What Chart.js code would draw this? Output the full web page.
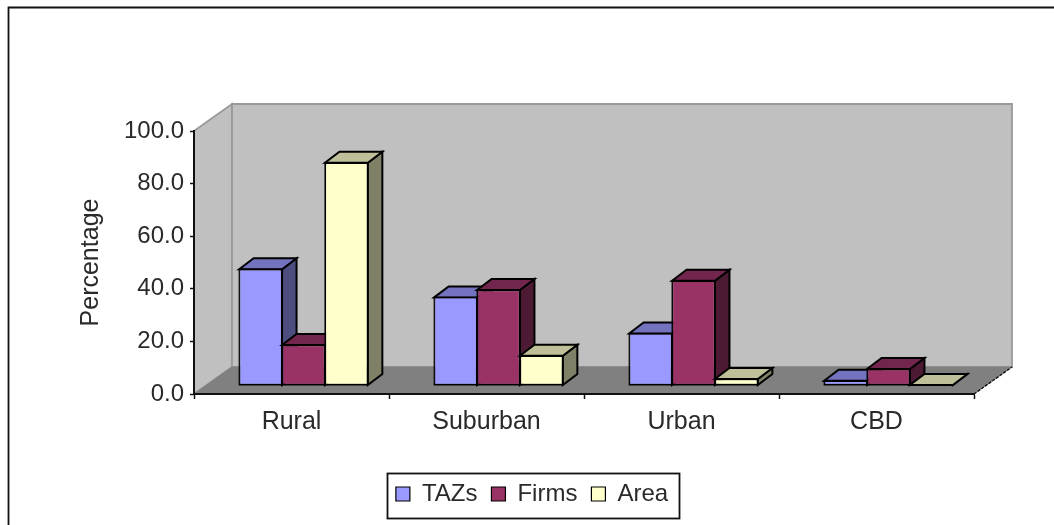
<!DOCTYPE html>
<html>
<head>
<meta charset="utf-8">
<style>html,body{margin:0;padding:0;background:#fff}canvas{display:block;filter:blur(0.45px)}</style>
<script src="https://cdn.jsdelivr.net/npm/chart.js@4"></script>
</head>
<body>
<canvas id="c" width="1054" height="525"></canvas>
<script>
const categories = ["Rural", "Suburban", "Urban", "CBD"];
const tazs  = [44.2, 33.5, 19.8, 1.8];
const firms = [15.4, 36.3, 39.8, 6.3];
const area  = [84.7, 11.3, 2.5, 0.2];
const axisTitle = "Percentage";
const FONT = "'Liberation Sans', Arial, sans-serif";
const TEXT = "#2a2a2a";

const wall = {dx: 38, dy: 27};   // depth of the box
const bar  = {dx: 14.5, dy: 11, ox: 12, oy: 8.5}; // depth of bars and their offset into the box

function shade(rgb, f){ return `rgb(${rgb.map(v => Math.round(v*f)).join(",")})`; }
function poly(ctx, pts, fill, stroke, lw){
  ctx.beginPath();
  pts.forEach((p,i) => i ? ctx.lineTo(p[0],p[1]) : ctx.moveTo(p[0],p[1]));
  ctx.closePath();
  if (fill){ ctx.fillStyle = fill; ctx.fill(); }
  if (stroke){ ctx.strokeStyle = stroke; ctx.lineWidth = lw; ctx.lineJoin = "miter"; ctx.stroke(); }
}

const rgbs = [[153,153,255],[153,51,102],[255,255,204]];

const box3d = {
  id: "box3d",
  afterLayout(chart){
    const l = chart.legend;
    l.left += 7; l.right += 7; l.top -= 9; l.bottom -= 9;
  },
  beforeDraw(chart){
    const ctx = chart.ctx;
    ctx.save();
    ctx.fillStyle = "#fff"; ctx.fillRect(0,0,chart.width,chart.height);
    // outer chart frame (cropped at right and bottom)
    ctx.strokeStyle = "#111"; ctx.lineWidth = 1.8;
    ctx.beginPath(); ctx.moveTo(8.5,chart.height); ctx.lineTo(8.5,7.5); ctx.lineTo(chart.width,7.5); ctx.stroke();
    // walls and floor
    const a = chart.chartArea;
    const L=a.left,R=a.right,T=a.top,B=a.bottom,dx=wall.dx,dy=wall.dy;
    poly(ctx,[[L,T],[L+dx,T-dy],[L+dx,B-dy],[L,B]],"#C0C0C0","#9a9a9a",1.8);
    poly(ctx,[[L+dx,T-dy],[R+dx,T-dy],[R+dx,B-dy],[L+dx,B-dy]],"#C0C0C0","#9a9a9a",1.8);
    poly(ctx,[[L,B],[L+dx,B-dy],[R+dx,B-dy],[R,B]],"#808080","#808080",1);
    ctx.strokeStyle="#111"; ctx.lineWidth=1.4; ctx.setLineDash([3,1.5]);
    ctx.beginPath(); ctx.moveTo(R,B); ctx.lineTo(R+dx,B-dy); ctx.stroke(); ctx.setLineDash([]);
    // legend frame
    ctx.strokeStyle="#111"; ctx.lineWidth=1.8;
    ctx.strokeRect(387.5,473.5,292,45);
    ctx.restore();
  },
  beforeDatasetsDraw(chart){
    const ctx = chart.ctx;
    const n = chart.data.labels.length;
    ctx.save();
    ctx.translate(bar.ox, -bar.oy);
    for (let i=0;i<n;i++){
      chart.data.datasets.forEach((ds,d) => {
        const el = chart.getDatasetMeta(d).data[i];
        const x0 = el.x - el.width/2, x1 = el.x + el.width/2;
        const top = el.y, base = el.base;
        const c = rgbs[d], lw = 2;
        poly(ctx,[[x1,top],[x1+bar.dx,top-bar.dy],[x1+bar.dx,base-bar.dy],[x1,base]],shade(c,0.5),"#000",lw);
        poly(ctx,[[x0,top],[x0+bar.dx,top-bar.dy],[x1+bar.dx,top-bar.dy],[x1,top]],shade(c,0.75),"#000",lw);
        el.draw(ctx);
        ctx.strokeStyle = "#000"; ctx.lineWidth = 1;
        ctx.strokeRect(x0, top, x1 - x0, base - top);
      });
    }
    ctx.restore();
    return false;
  }
};

new Chart(document.getElementById("c"), {
  type: "bar",
  data: {
    labels: categories,
    datasets: [
      {label:"TAZs",  data:tazs,  backgroundColor:"#9999FF"},
      {label:"Firms", data:firms, backgroundColor:"#993366"},
      {label:"Area",  data:area,  backgroundColor:"#FFFFCC"}
    ]
  },
  plugins: [box3d],
  options: {
    responsive:false, animation:false,
    layout:{padding:{left:76,right:80,top:131,bottom:0}},
    datasets:{bar:{categoryPercentage:0.66,barPercentage:1,borderColor:"#000",borderWidth:1.2,borderSkipped:false}},
    plugins:{
      title:{display:false}, tooltip:{enabled:false},
      legend:{
        position:"bottom",
        labels:{font:{family:FONT,size:24},color:TEXT,boxWidth:14,boxHeight:14,padding:14}
      }
    },
    scales:{
      x:{
        grid:{drawOnChartArea:false,tickLength:5,tickColor:"#111",tickWidth:1.5,offset:true},
        border:{color:"#111",width:2},
        ticks:{font:{family:FONT,size:25},color:TEXT,padding:8,maxRotation:0},
        afterFit(s){ s.height = 525 - 394 - s.chart.legend.height; }
      },
      y:{
        min:0,max:100,
        grid:{drawOnChartArea:false,tickLength:4,tickColor:"#111",tickWidth:1.5},
        border:{color:"#111",width:2},
        ticks:{stepSize:20,font:{family:FONT,size:24},color:TEXT,padding:6,callback:v=>v.toFixed(1)},
        title:{display:true,text:axisTitle,font:{family:FONT,size:25},color:TEXT,padding:{top:0,bottom:10}},
        afterFit(s){ s.width = 194 - 76; }
      }
    }
  }
});
</script>
</body>
</html>
